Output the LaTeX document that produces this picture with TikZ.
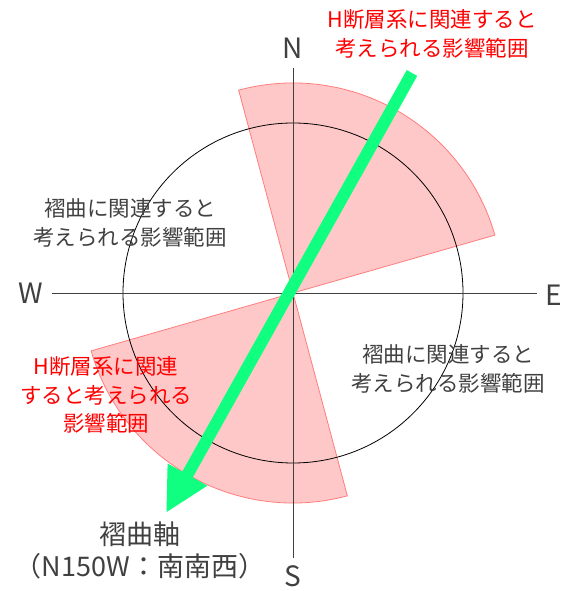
\documentclass[tikz,border=0pt]{standalone}
\usepackage{fontspec}
\setmainfont{Noto Sans CJK JP}
\usetikzlibrary{arrows.meta}
\definecolor{wedgefill}{RGB}{255,200,200}
\definecolor{wedgeline}{RGB}{255,125,125}
\definecolor{axisgreen}{RGB}{16,255,128}
\definecolor{txtgray}{RGB}{64,64,64}
\begin{document}
\begin{tikzpicture}[x=1pt,y=1pt,
  wedge/.style={fill=wedgefill,draw=wedgeline,line width=0.8pt},
  axisline/.style={draw=txtgray,line width=0.9pt},
  dirlabel/.style={text=txtgray,font=\fontsize{28}{28}\selectfont,inner sep=0pt},
  jtext/.style={align=center,font=\fontsize{21.5}{28.5}\selectfont,inner sep=0pt},
  redtext/.style={jtext,text=red},
  graytext/.style={jtext,text=txtgray}]
\useasboundingbox (0,0) rectangle (562,591);
\coordinate (C) at (293,298);
% wedges
\filldraw[wedge] (C) -- ++(16:210) arc[start angle=16,end angle=105,radius=210] -- cycle;
\filldraw[wedge] (C) -- ++(196:210) arc[start angle=196,end angle=285,radius=210] -- cycle;
% circle
\draw[black,line width=0.8pt] (C) circle[radius=170];
% axes
\coordinate (Ntop) at (293,523);
\coordinate (Sbot) at (293,33);
\coordinate (Wend) at (52,298);
\coordinate (Eend) at (537,298);
\draw[axisline] (Ntop) -- (Sbot);
\draw[axisline] (Wend) -- (Eend);
% direction labels
\node[dirlabel] (N) at (293,543) {N};
\node[dirlabel] (S) at (293,15) {S};
\node[dirlabel] (W) at (31,298) {W};
\node[dirlabel] (E) at (554,296) {E};
% green arrow
\coordinate (Astart) at (412,518);
\coordinate (Aend) at (166,78);
\draw[axisgreen,line width=12pt,-{Triangle[length=44pt,width=42pt]}] (Astart) -- (Aend);
% texts
\node[redtext] (topred) at (432,557) {H断層系に関連すると\\考えられる影響範囲};
\node[graytext] (leftgray) at (130,368) {褶曲に関連すると\\考えられる影響範囲};
\node[graytext] (rightgray) at (448,222) {褶曲に関連すると\\考えられる影響範囲};
\node[redtext] (leftred) at (106,196) {H断層系に関連\\すると考えられる\\影響範囲};
\node[graytext,font=\fontsize{27}{32}\selectfont] (axislabel) at (140,41) {褶曲軸\\（N150W：南南西）};
\end{tikzpicture}
\end{document}
